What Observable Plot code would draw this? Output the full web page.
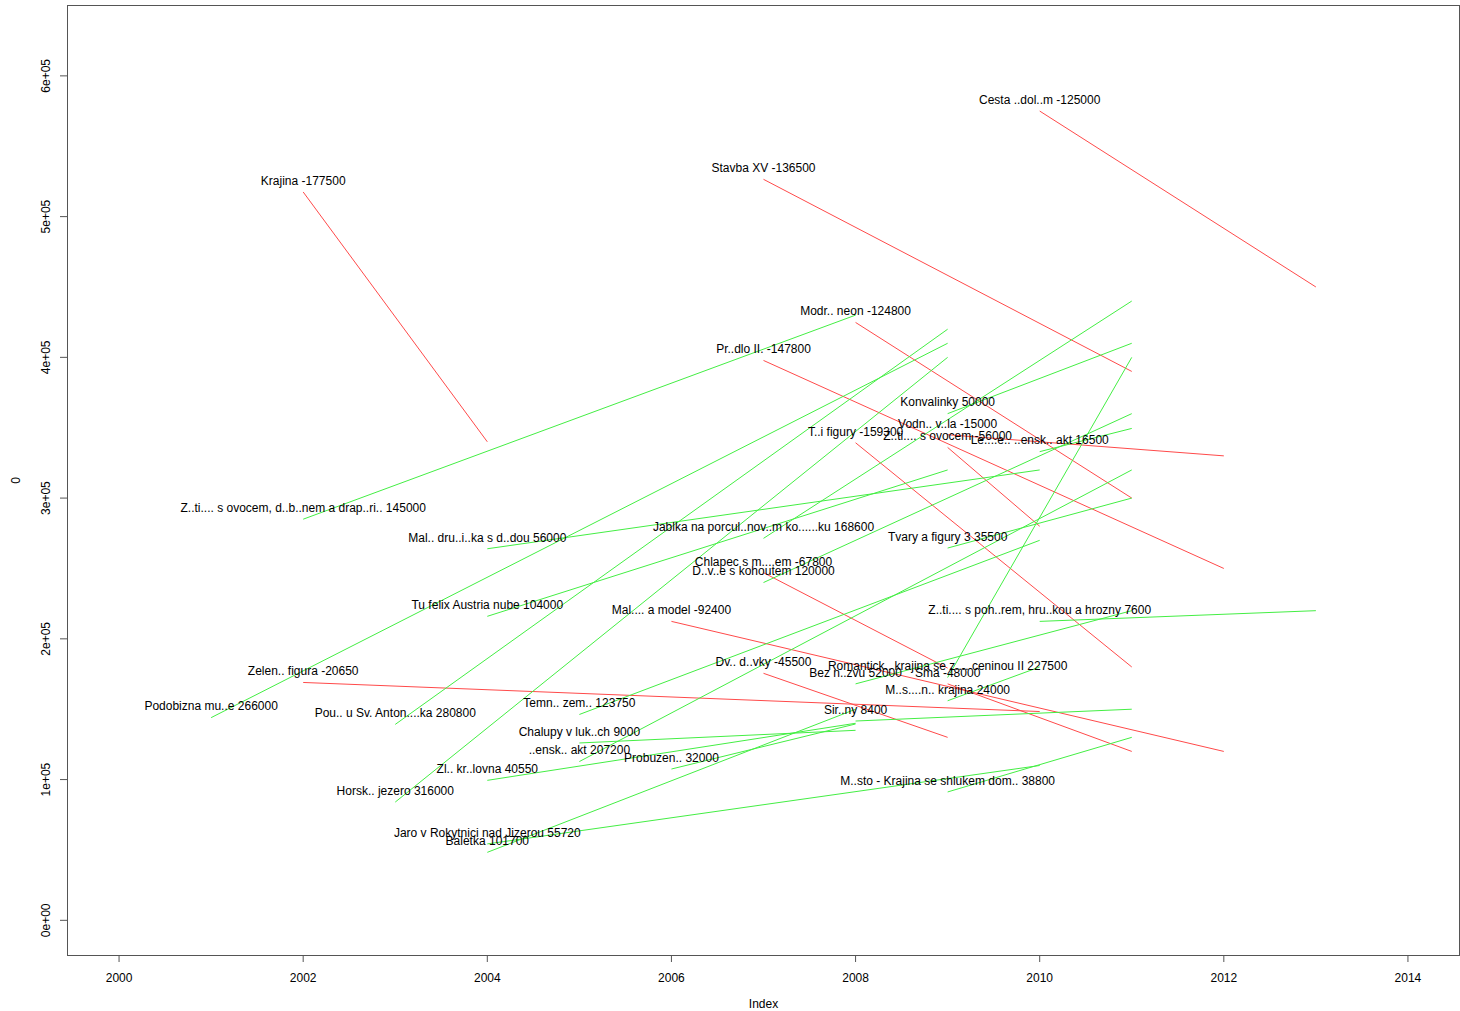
<!DOCTYPE html>
<html>
<head>
<meta charset="utf-8">
<script src="https://cdn.jsdelivr.net/npm/d3@7"></script>
<script src="https://cdn.jsdelivr.net/npm/@observablehq/plot@0.6"></script>
<style>
  html, body { margin: 0; padding: 0; background: #fff; }
  #chart svg { display: block; }
</style>
</head>
<body>
<div id="chart"></div>
<script>
const labels = [
  "Cesta ..dol..m -125000",
  "Krajina -177500",
  "Stavba XV -136500",
  "Modr.. neon -124800",
  "Pr..dlo II. -147800",
  "Konvalinky 50000",
  "Vodn.. v..la -15000",
  "T..i figury -159300",
  "Z..ti.... s ovocem -56000",
  "Le....e.. ..ensk.. akt 16500",
  "Z..ti.... s ovocem, d..b..nem a drap..ri.. 145000",
  "Jablka na porcul..nov..m ko......ku 168600",
  "Mal.. dru..i..ka s d..dou 56000",
  "Tvary a figury 3 35500",
  "Chlapec s m....em -67800",
  "D..v..e s kohoutem 120000",
  "Tu felix Austria nube 104000",
  "Mal.... a model -92400",
  "Z..ti.... s poh..rem, hru..kou a hrozny 7600",
  "Zelen.. figura -20650",
  "Dv.. d..vky -45500",
  "Romantick.. krajina se z.... ceninou II 227500",
  "Bez n..zvu 52000",
  "Sma -48000",
  "M..s....n.. krajina 24000",
  "Podobizna mu..e 266000",
  "Sir..ny 8400",
  "Temn.. zem.. 123750",
  "Pou.. u Sv. Anton....ka 280800",
  "Chalupy v luk..ch 9000",
  "..ensk.. akt 207200",
  "Probuzen.. 32000",
  "Zl.. kr..lovna 40550",
  "M..sto - Krajina se shlukem dom.. 38800",
  "Horsk.. jezero 316000",
  "Jaro v Rokytnici nad Jizerou 55720",
  "Baletka 101700"
];
const startYear = [2010, 2002, 2007, 2008, 2007, 2009, 2009, 2008, 2009, 2010, 2002, 2007, 2004, 2009, 2007, 2007, 2004, 2006, 2010, 2002, 2007, 2009, 2008, 2009, 2009, 2001, 2008, 2005, 2003, 2005, 2005, 2006, 2004, 2009, 2003, 2004, 2004];
const endYear   = [2013, 2004, 2011, 2011, 2012, 2011, 2012, 2011, 2010, 2011, 2008, 2011, 2010, 2011, 2009, 2011, 2009, 2012, 2013, 2010, 2009, 2011, 2011, 2011, 2010, 2009, 2011, 2010, 2009, 2008, 2011, 2008, 2008, 2011, 2009, 2010, 2008];
const startPrice = [575000, 517500, 526500, 424800, 397800, 360000, 345000, 339300, 336000, 333000, 285000, 271400, 264000, 264500, 247000, 240000, 216000, 212400, 212400, 169000, 175500, 172500, 168000, 168000, 156000, 144000, 141600, 146250, 139200, 126000, 112800, 107500, 99450, 91200, 84000, 54280, 48300];
const endPrice   = [450000, 340000, 390000, 300000, 250000, 410000, 330000, 180000, 280000, 349500, 430000, 440000, 320000, 300000, 179200, 360000, 320000, 120000, 220000, 148350, 130000, 400000, 220000, 120000, 180000, 410000, 150000, 270000, 420000, 135000, 320000, 139500, 140000, 130000, 400000, 110000, 150000];

const xTicks = [2000, 2002, 2004, 2006, 2008, 2010, 2012, 2014];
const yTicks = [0, 100000, 200000, 300000, 400000, 500000, 600000];
const yTickLabels = ["0e+00", "1e+05", "2e+05", "3e+05", "4e+05", "5e+05", "6e+05"];

const data = labels.map((label, i) => ({
  label,
  x1: startYear[i], x2: endYear[i],
  y1: startPrice[i], y2: endPrice[i],
  dir: endPrice[i] >= startPrice[i] ? "up" : "down"
}));
const yTickData = yTicks.map((v, i) => ({v, t: yTickLabels[i]}));

const chart = Plot.plot({
  width: 1460,
  height: 1011,
  marginLeft: 67,
  marginRight: 1,
  marginTop: 5,
  marginBottom: 56,
  style: {fontFamily: "'Liberation Sans', Arial, Helvetica, sans-serif", fontSize: "12px", background: "#fff", color: "#000"},
  x: {domain: [1999.44, 2014.56], label: null},
  y: {domain: [-25000, 650000], label: null},
  color: {domain: ["up", "down"], range: ["#44ee44", "#ff4a4a"]},
  marks: [
    Plot.frame({stroke: "#555"}),
    Plot.axisX({ticks: xTicks, tickSize: 7, tickPadding: 11, tickFormat: d => String(d), label: null, stroke: "#555", fontSize: 12}),
    Plot.axisY({ticks: yTicks, tickSize: 7, tickFormat: () => "", label: null, stroke: "#555"}),
    Plot.text(yTickData, {y: "v", text: "t", frameAnchor: "left", dx: -21, rotate: -90, textAnchor: "middle", fontSize: 12, fill: "#000"}),
    Plot.text(["0"], {frameAnchor: "left", dx: -51, rotate: -90, textAnchor: "middle", fontSize: 12, fill: "#000"}),
    Plot.text(["Index"], {frameAnchor: "bottom", dy: 52, textAnchor: "middle", fontSize: 12, fill: "#000"}),
    Plot.link(data, {x1: "x1", y1: "y1", x2: "x2", y2: "y2", stroke: "dir", strokeWidth: 1}),
    Plot.text(data, {x: "x1", y: "y1", text: "label", dy: -11, fontSize: 12, fill: "#000"})
  ]
});
document.getElementById("chart").appendChild(chart);
</script>
</body>
</html>
